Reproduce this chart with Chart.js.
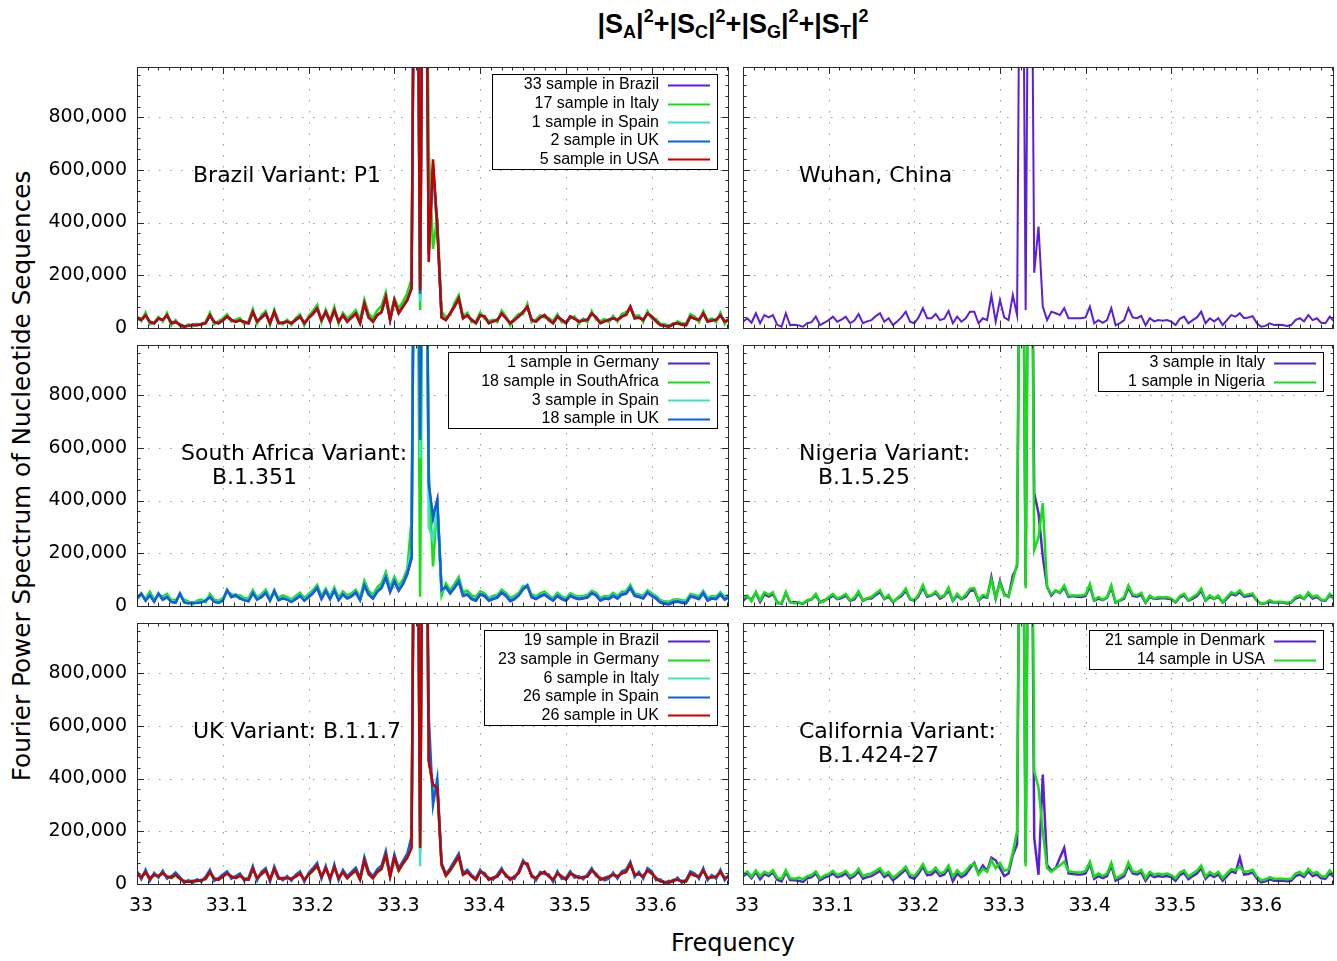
<!DOCTYPE html>
<html>
<head>
<meta charset="utf-8">
<script src="https://cdn.jsdelivr.net/npm/chart.js@4.4.1/dist/chart.umd.min.js"></script>
<style>
html,body{margin:0;padding:0;background:#fff;}
body{width:1337px;height:961px;position:relative;overflow:hidden;font-family:"DejaVu Sans",sans-serif;color:#000;}
canvas{position:absolute;}
#title{position:absolute;left:0;width:1466px;top:9px;text-align:center;font:bold 27px "Liberation Sans",Arial,sans-serif;line-height:30px;white-space:nowrap;}
#title .sb,#title .sp{font-size:18px;position:relative;line-height:0;}
#title .sb{top:5px;}
#title .sp{top:-11px;}
#ytitle{position:absolute;left:-328px;top:461px;width:700px;height:30px;line-height:30px;text-align:center;font:24.7px "DejaVu Sans",sans-serif;transform:rotate(-90deg);white-space:nowrap;}
#xtitle{position:absolute;left:533px;top:929px;width:400px;height:30px;line-height:30px;text-align:center;font:24px "DejaVu Sans",sans-serif;}
</style>
</head>
<body>
<div id="title">|S<span class="sb">A</span>|<span class="sp">2</span>+|S<span class="sb">C</span>|<span class="sp">2</span>+|S<span class="sb">G</span>|<span class="sp">2</span>+|S<span class="sb">T</span>|<span class="sp">2</span></div>
<div id="ytitle">Fourier Power Spectrum of Nucleotide Sequences</div>
<div id="xtitle">Frequency</div>
<script>
// ---------------- DATA ----------------
// Frequency grid (categories)
const FREQ_START = 33.0;
const FREQ_STEP = 0.005;
const N_POINTS = 139;
const FREQUENCIES = Array.from({length: N_POINTS}, (_, i) => +(FREQ_START + i * FREQ_STEP).toFixed(3));

// Tick labels
const X_TICKS = [33.0, 33.1, 33.2, 33.3, 33.4, 33.5, 33.6];
const Y_TICKS_K = [0, 200, 400, 600, 800];   // in thousands
const X_MIN = 33.0, X_MAX = 33.69;
const Y_MIN_K = 0, Y_MAX_K = 990;

// Series values (power, in thousands)
// Brazil Variant: P1
const P1_BRAZIL_K = [35,32,47,24,20,35,32,47,20,22, 14,7,10,12,13,15,20,47,24,20,
 28,44,32,26,28,24,20,60,26,38, 54,20,60,20,22,25,20,32,44,20,
 38,52,72,32,60,26,66,26,47,26, 42,54,20,90,42,26,50,62,115,32,
 104,58,84,108,155,2500,120,2500,300,600, 390,42,32,54,84,110,39,47,32,20,
 47,45,20,27,32,54,39,20,32,43, 62,78,32,26,42,47,32,20,44,32,
 20,44,37,26,30,32,54,42,20,27, 32,39,32,44,52,79,39,42,32,54,
 44,27,13,10,7,16,20,14,13,42, 37,32,54,26,30,32,47,26,32];
const P1_ITALY_K = [44,26,58,14,22,42,24,56,10,30, 8,2,14,6,16,9,24,58,14,26,
 36,52,24,32,38,14,26,72,16,48, 64,10,70,26,14,32,12,38,52,10,
 46,64,88,22,70,30,80,16,58,36, 50,68,30,108,55,38,66,84,135,45,
 112,75,100,132,185,2500,68,2500,680,300, 420,62,42,48,95,125,44,58,22,26,
 58,36,26,32,22,66,44,10,38,54, 52,92,22,32,48,40,38,26,52,22,
 26,36,44,16,36,22,64,32,26,34, 22,46,24,52,60,72,46,48,22,64,
 36,34,16,14,10,10,26,18,16,52, 44,22,64,30,36,22,58,16,40];
const P1_SPAIN_K = [38,28,50,20,19,38,28,50,17,25, 11,6,9,10,12,13,17,50,21,19,
 31,42,29,25,31,21,19,63,23,41, 57,17,63,17,21,23,19,29,42,19,
 36,56,76,29,63,23,69,23,50,23, 41,57,17,96,41,23,48,58,122,29,
 108,55,80,104,160,2500,100,2500,400,560, 380,44,29,57,80,115,36,50,29,17,
 50,42,17,24,31,57,36,17,29,46, 59,82,29,23,41,50,29,17,42,29,
 17,42,36,23,27,29,57,39,17,24, 29,38,29,42,51,82,36,41,29,57,
 42,24,10,7,6,14,17,11,10,44, 36,29,57,23,27,29,50,23,29];
const P1_UK_K = [36,31,48,23,17,36,31,48,19,23, 13,6,9,12,10,15,19,48,23,17,
 29,44,31,23,29,23,17,61,25,39, 55,19,61,19,19,25,17,31,44,17,
 38,54,74,31,61,25,67,25,48,25, 39,55,19,92,39,25,48,61,117,31,
 105,57,82,105,152,2500,130,2500,280,620, 388,41,31,55,82,112,38,48,31,19,
 48,44,19,26,31,55,38,19,31,44, 61,80,31,25,39,48,31,19,44,31,
 19,44,36,25,29,31,55,41,19,26, 31,38,31,44,49,80,38,39,31,55,
 44,26,12,9,6,14,19,13,12,44, 36,31,55,25,29,31,48,25,31];
const P1_USA_K = [37,30,49,22,18,37,30,49,18,24, 12,5,8,11,11,14,18,49,22,18,
 30,43,30,24,30,22,18,62,24,40, 56,18,62,18,20,24,18,30,43,18,
 37,55,75,30,62,24,68,24,49,24, 40,56,18,94,40,24,49,60,119,30,
 106,56,81,106,150,2500,144,2500,250,640, 385,40,30,56,81,113,37,49,30,18,
 49,43,18,25,30,56,37,18,30,45, 60,81,30,24,40,49,30,18,43,30,
 18,43,35,24,28,30,56,40,18,25, 30,37,30,43,50,81,37,40,30,56,
 43,25,11,8,5,15,18,12,11,43, 35,30,56,24,28,30,49,24,30];

// Wuhan, China
const WUHAN_K = [24,37,20,56,18,49,40,49,12,5, 56,11,12,10,5,18,22,43,11,20,
 30,43,24,32,43,18,28,53,18,25, 30,45,56,24,37,11,25,40,62,24,
 18,40,75,37,37,53,30,35,65,18, 43,24,37,62,62,18,37,30,123,24,
 106,40,30,125,49,2500,68,2500,210,385, 81,30,62,56,49,75,37,37,37,37,
 40,81,18,30,20,30,75,10,18,30, 75,40,37,46,10,37,25,30,28,30,
 24,11,35,43,18,30,40,62,18,37, 25,37,11,30,49,43,56,37,40,45,
 18,5,8,18,11,12,11,8,11,30, 37,25,49,30,37,20,18,43,25];

// South Africa Variant: B.1.351
const SA_GERMANY_K = [27,46,22,40,18,46,23,33,17,14, 46,16,12,14,13,16,22,33,18,14,
 22,59,33,40,28,24,20,48,26,33, 50,22,56,24,28,26,17,26,38,22,
 33,48,68,26,56,28,58,24,43,28, 36,50,24,78,43,28,54,68,108,53,
 93,58,83,120,180,2500,600,2500,450,330, 398,58,70,48,68,92,38,43,26,20,
 43,38,20,26,32,50,38,18,26,40, 63,76,33,26,36,43,30,20,38,26,
 20,38,30,26,28,32,48,40,20,28, 26,38,28,43,46,68,38,34,28,50,
 38,28,13,8,6,14,16,12,10,36, 32,26,48,20,28,26,43,24,33];
const SA_SOUTHAFRICA_K = [38,40,30,54,24,40,36,46,24,22, 40,24,18,6,20,24,14,46,24,20,
 30,52,46,34,40,30,28,60,32,44, 62,30,48,32,40,34,25,38,50,30,
 45,60,80,38,66,36,70,32,55,40, 48,62,32,96,58,42,70,86,128,70,
 110,75,100,140,327,2500,35,2500,520,150, 390,40,85,60,84,110,52,58,40,34,
 56,48,30,38,42,62,50,30,38,50, 76,70,45,36,48,55,40,30,50,36,
 30,48,40,36,38,42,58,50,30,38, 36,50,38,54,56,80,48,44,38,60,
 48,38,22,18,16,24,26,22,20,46, 42,36,58,30,38,36,53,34,43];
const SA_SPAIN_K = [32,44,24,45,20,44,28,38,18,15, 45,17,13,15,14,17,24,38,19,15,
 24,58,38,45,33,25,21,53,27,38, 55,23,61,25,33,27,18,31,43,23,
 38,53,73,31,61,29,63,25,48,33, 41,55,25,84,48,33,59,74,115,60,
 100,64,88,130,230,2500,560,2500,300,250, 380,55,70,53,73,98,43,48,31,25,
 48,43,25,31,37,55,43,23,31,45, 68,81,38,31,41,48,35,25,43,31,
 25,43,35,31,33,37,53,45,25,33, 31,43,33,48,51,73,43,39,33,55,
 43,33,18,13,11,19,21,17,15,41, 37,31,53,25,33,31,48,29,38];
const SA_UK_K = [29,48,20,42,16,48,25,35,15,12, 48,14,10,12,11,14,20,35,16,12,
 20,61,35,42,30,22,18,50,24,35, 52,20,58,22,30,24,15,28,40,20,
 35,50,70,28,58,26,60,22,45,30, 38,52,22,80,45,30,56,70,110,55,
 95,60,85,124,187,2500,630,2500,466,340, 403,60,73,50,70,95,40,45,28,22,
 45,40,22,28,34,52,40,20,28,42, 65,78,35,28,38,45,32,22,40,28,
 22,40,32,28,30,34,50,42,22,30, 28,40,30,45,48,70,40,36,30,52,
 40,30,15,10,8,16,18,14,12,38, 34,28,50,22,30,28,45,26,35];

// Nigeria Variant: B.1.5.25
const NG_ITALY_K = [20,35,24,50,15,45,36,45,15,8, 50,14,15,12,8,20,25,40,14,22,
 28,40,26,30,40,20,25,50,20,28, 28,42,52,26,35,14,28,38,58,26,
 20,38,70,35,40,50,28,38,60,20, 40,26,35,58,60,20,35,32,110,28,
 95,45,35,115,150,2500,80,2500,428,352, 187,73,40,58,50,70,35,38,35,34,
 38,75,20,28,22,32,70,12,20,28, 70,38,35,42,12,35,27,28,30,28,
 26,13,33,40,20,28,38,58,20,35, 27,35,13,28,46,40,52,35,38,42,
 20,8,10,16,13,14,13,10,13,28, 35,27,46,28,35,22,20,40,27];
const NG_NIGERIA_K = [28,40,18,54,22,52,42,52,10,12, 54,15,10,14,10,22,26,46,15,18,
 34,46,28,35,46,22,32,56,22,30, 34,48,60,28,42,15,30,44,66,28,
 22,44,80,40,42,56,34,40,70,22, 46,28,42,66,68,22,42,36,100,30,
 90,40,35,95,160,2500,67,2500,212,260, 390,73,45,60,52,78,40,40,40,40,
 44,84,22,34,24,34,78,14,22,34, 78,44,40,50,14,40,28,34,32,34,
 28,15,38,46,22,34,44,66,22,40, 28,40,15,34,52,46,60,40,44,48,
 22,9,12,22,15,16,15,12,15,34, 40,28,52,34,40,24,22,46,28];

// UK Variant: B.1.1.7
const UK_BRAZIL_K = [41,26,44,21,36,31,41,29,25,34, 21,11,9,11,13,15,21,44,21,17,
 29,41,29,23,31,21,17,57,23,37, 51,17,57,21,23,23,21,29,41,17,
 35,51,69,29,59,23,63,23,45,23, 39,51,17,89,39,23,45,57,112,29,
 102,51,79,102,145,2500,150,2500,470,370, 368,72,33,51,79,104,36,45,29,17,
 45,41,17,25,29,51,36,17,29,43, 80,77,29,23,39,45,29,17,41,29,
 17,41,33,23,27,29,51,39,17,23, 29,36,29,41,47,77,36,39,29,51,
 41,23,11,8,6,15,17,11,11,41, 33,29,51,23,27,29,45,23,29];
const UK_GERMANY_K = [38,27,43,22,33,32,40,30,22,33, 22,12,10,12,10,16,18,43,22,18,
 26,42,30,24,30,22,18,56,24,36, 50,18,56,22,20,24,18,30,38,18,
 36,50,68,30,58,24,62,24,44,24, 36,50,18,88,40,24,44,56,108,30,
 98,50,76,98,140,2500,120,2500,480,360, 370,70,30,50,76,102,37,44,30,18,
 44,42,18,22,30,50,37,18,26,44, 80,74,30,24,36,44,30,18,38,30,
 18,38,34,24,24,30,50,40,18,24, 26,37,26,42,44,74,37,36,30,50,
 38,24,12,9,7,12,18,12,8,38, 34,26,50,24,24,30,44,24,26];
const UK_ITALY_K = [42,28,47,22,37,32,44,30,26,37, 22,12,10,12,14,16,22,47,22,18,
 30,42,30,24,34,22,18,60,24,40, 54,18,60,22,24,24,22,30,42,18,
 36,54,72,30,62,24,66,24,48,24, 40,54,18,92,40,24,48,60,115,30,
 104,54,80,104,150,2500,67,2500,500,350, 380,75,34,54,80,108,37,48,30,18,
 48,42,18,26,30,54,37,18,30,44, 78,78,30,24,40,48,30,18,42,30,
 18,42,34,24,28,30,54,40,18,24, 30,37,30,42,48,78,37,40,30,54,
 42,24,12,9,7,16,18,12,12,42, 34,30,54,24,28,30,48,24,30];
const UK_SPAIN_K = [48,18,54,12,42,24,50,20,30,44, 26,4,14,4,18,8,28,54,12,22,
 36,48,20,30,40,12,24,68,14,46, 60,8,66,28,14,30,12,36,48,8,
 42,60,80,20,68,14,74,14,54,30, 46,62,24,102,48,30,56,70,125,38,
 112,60,88,115,180,2500,200,2500,643,300, 400,80,38,60,88,115,42,54,34,22,
 54,32,24,16,36,60,28,24,20,50, 90,68,36,14,46,38,36,8,48,20,
 24,48,24,30,18,36,60,30,24,14, 20,43,20,48,54,84,27,46,20,60,
 48,14,18,4,12,8,24,4,16,48, 40,20,60,14,34,20,54,14,36];
const UK_UK_K = [40,25,45,20,35,30,42,28,24,35, 20,10,8,10,12,14,20,45,20,16,
 28,40,28,22,32,20,16,58,22,38, 52,16,58,20,22,22,20,28,40,16,
 34,52,70,28,60,22,64,22,46,22, 38,52,16,90,38,22,46,58,110,28,
 100,52,78,100,137,2500,137,2500,466,377, 365,73,32,52,78,105,35,46,28,16,
 46,40,16,24,28,52,35,16,28,42, 82,76,28,22,38,46,28,16,40,28,
 16,40,32,22,26,28,52,38,16,22, 28,35,28,40,46,76,35,38,28,52,
 40,22,10,7,5,14,16,10,10,40, 32,28,52,22,26,28,46,22,28];

// California Variant: B.1.424-27
const CA_DENMARK_K = [30,40,22,45,18,38,30,44,16,10, 45,15,14,12,8,22,26,40,14,24,
 30,40,26,30,40,20,30,48,20,26, 30,40,50,26,36,14,26,40,56,26,
 20,40,66,34,36,50,30,36,60,10, 40,26,36,60,80,40,70,50,100,90,
 60,30,40,110,150,2500,80,2500,175,35, 415,73,50,60,100,137,40,38,36,36,
 40,76,20,30,22,30,70,12,20,30, 70,40,36,44,12,36,26,30,28,30,
 26,12,34,42,18,30,40,60,20,36, 26,36,12,30,48,42,100,36,38,44,
 20,6,10,18,12,12,12,10,12,30, 36,26,48,30,36,22,20,40,26];
const CA_USA_K = [36,48,28,52,30,46,38,52,24,20, 52,22,20,24,18,30,34,48,22,32,
 38,50,34,40,50,30,38,58,30,36, 40,50,60,36,46,24,36,50,66,36,
 30,50,76,44,46,62,40,46,70,28, 52,36,48,70,76,36,58,46,90,60,
 80,50,55,120,200,2500,67,2500,428,365, 200,60,46,60,70,85,48,46,44,44,
 50,84,28,40,30,40,80,22,30,40, 82,48,44,54,22,46,34,40,36,40,
 34,22,44,52,28,40,50,70,28,46, 34,46,22,40,56,52,66,46,48,54,
 28,14,18,26,20,20,20,18,20,40, 46,34,58,40,46,30,28,52,34];

// ---------------- STYLE / LAYOUT ----------------
const C = {purple:'#5c1fd8', green:'#14e014', cyan:'#40e0cc', blue:'#0e62d8', red:'#c40000'};
const PLOT_TOPS = [67, 345, 623];
const PLOT_H = 261;

const PANELS = [
  {row:0, col:0, notes:[['Brazil Variant: P1', 56]], legendW:226, series:[
    ['33 sample in Brazil', C.purple, P1_BRAZIL_K],
    ['17 sample in Italy', C.green, P1_ITALY_K],
    ['1 sample in Spain', C.cyan, P1_SPAIN_K],
    ['2 sample in UK', C.blue, P1_UK_K],
    ['5 sample in USA', C.red, P1_USA_K]]},
  {row:0, col:1, notes:[['Wuhan, China', 56]], legendW:0, series:[
    ['Wuhan, China', C.purple, WUHAN_K]]},
  {row:1, col:0, notes:[['South Africa Variant:', 44], ['B.1.351', 75]], legendW:270, series:[
    ['1 sample in Germany', C.purple, SA_GERMANY_K],
    ['18 sample in SouthAfrica', C.green, SA_SOUTHAFRICA_K],
    ['3 sample in Spain', C.cyan, SA_SPAIN_K],
    ['18 sample in UK', C.blue, SA_UK_K]]},
  {row:1, col:1, notes:[['Nigeria Variant:', 56], ['B.1.5.25', 75]], legendW:226, series:[
    ['3 sample in Italy', C.purple, NG_ITALY_K],
    ['1 sample in Nigeria', C.green, NG_NIGERIA_K]]},
  {row:2, col:0, notes:[['UK Variant: B.1.1.7', 56]], legendW:234, series:[
    ['19 sample in Brazil', C.purple, UK_BRAZIL_K],
    ['23 sample in Germany', C.green, UK_GERMANY_K],
    ['6 sample in Italy', C.cyan, UK_ITALY_K],
    ['26 sample in Spain', C.blue, UK_SPAIN_K],
    ['26 sample in UK', C.red, UK_UK_K]]},
  {row:2, col:1, notes:[['California Variant:', 56], ['B.1.424-27', 75]], legendW:235, series:[
    ['21 sample in Denmark', C.purple, CA_DENMARK_K],
    ['14 sample in USA', C.green, CA_USA_K]]}
];

PANELS.forEach(p => p.series.forEach(s => {
  if (s[2].length !== N_POINTS) throw new Error('Series "' + s[0] + '" has ' + s[2].length + ' values');
}));

// ---------------- PLUGIN: grid, frame, labels, key ----------------
const panelDeco = {
  id: 'panelDeco',
  beforeDatasetsDraw(chart, args, o) {
    const {ctx, chartArea: a, scales: {x, y}} = chart;
    ctx.save();
    ctx.strokeStyle = '#9a9a9a';
    ctx.lineWidth = 1;
    ctx.setLineDash([1.5, 9.5]);
    ctx.beginPath();
    X_TICKS.forEach(v => {
      if (v <= X_MIN) return;
      const px = Math.round(x.getPixelForValue(v)) + 0.5;
      ctx.moveTo(px, a.top); ctx.lineTo(px, a.bottom);
    });
    Y_TICKS_K.forEach(v => {
      if (v <= Y_MIN_K) return;
      const py = Math.round(y.getPixelForValue(v)) + 0.5;
      ctx.moveTo(a.left, py); ctx.lineTo(a.right, py);
    });
    ctx.stroke();
    ctx.restore();
  },
  afterDatasetsDraw(chart, args, o) {
    const {ctx, chartArea: a, scales: {x, y}} = chart;
    ctx.save();
    // frame
    ctx.strokeStyle = '#2a2a2a';
    ctx.lineWidth = 1;
    ctx.strokeRect(Math.round(a.left) + 0.5, Math.round(a.top) + 0.5, Math.round(a.right - a.left) - 1, Math.round(a.bottom - a.top));
    ctx.beginPath();
    // major ticks (inward, mirrored)
    X_TICKS.forEach(v => {
      const px = Math.round(x.getPixelForValue(v)) + 0.5;
      ctx.moveTo(px, a.bottom); ctx.lineTo(px, a.bottom - 7);
      ctx.moveTo(px, a.top); ctx.lineTo(px, a.top + 7);
    });
    Y_TICKS_K.forEach(v => {
      const py = Math.round(y.getPixelForValue(v)) + 0.5;
      ctx.moveTo(a.left, py); ctx.lineTo(a.left + 7, py);
      ctx.moveTo(a.right, py); ctx.lineTo(a.right - 7, py);
    });
    // minor ticks
    for (let k = 1; ; k++) {
      const v = X_MIN + k * 0.0125;
      if (v > X_MAX) break;
      if (Math.abs(v * 10 - Math.round(v * 10)) < 1e-6) continue;
      const px = Math.round(x.getPixelForValue(v)) + 0.5;
      ctx.moveTo(px, a.bottom); ctx.lineTo(px, a.bottom - 3.5);
      ctx.moveTo(px, a.top); ctx.lineTo(px, a.top + 3.5);
    }
    for (let v = 40; v < Y_MAX_K; v += 40) {
      if (v % 200 === 0) continue;
      const py = Math.round(y.getPixelForValue(v)) + 0.5;
      ctx.moveTo(a.left, py); ctx.lineTo(a.left + 3.5, py);
      ctx.moveTo(a.right, py); ctx.lineTo(a.right - 3.5, py);
    }
    ctx.stroke();

    // panel notes
    ctx.fillStyle = '#000';
    ctx.font = '22px "DejaVu Sans"';
    ctx.textAlign = 'left';
    ctx.textBaseline = 'middle';
    o.notes.forEach((n, i) => ctx.fillText(n[0], a.left + n[1], a.top + 109 + i * 24));

    // key
    if (o.legendW > 0) {
      const ser = chart.data.datasets;
      const right = Math.round(a.right) - (o.col === 0 ? 11 : 10);
      const top = Math.round(a.top) + 7;
      const h = ser.length * 18.6 + 1.5;
      ctx.fillStyle = '#fff';
      ctx.fillRect(right - o.legendW, top, o.legendW, h);
      ctx.strokeStyle = '#000';
      ctx.lineWidth = 1;
      ctx.strokeRect(right - o.legendW + 0.5, top + 0.5, o.legendW - 1, Math.round(h));
      ctx.font = '16px "Liberation Sans"';
      ctx.textAlign = 'right';
      ser.forEach((d, i) => {
        const cy = top + 11 + i * 18.6;
        ctx.fillStyle = '#000';
        ctx.fillText(d.label, right - 59, cy);
        ctx.strokeStyle = d.borderColor;
        ctx.lineWidth = 2;
        ctx.beginPath();
        ctx.moveTo(right - 50, Math.round(cy) + 0.5);
        ctx.lineTo(right - 8, Math.round(cy) + 0.5);
        ctx.stroke();
      });
    }
    ctx.restore();
  }
};

// ---------------- BUILD ----------------
Chart.defaults.font.family = '"DejaVu Sans"';
Chart.defaults.color = '#000';

PANELS.forEach(p => {
  const bottomRow = p.row === 2;
  const yW = p.col === 0 ? 137 : 23;
  const cLeft = p.col === 0 ? 0 : 720;
  const cWidth = p.col === 0 ? 736 : 617;
  const padR = p.col === 0 ? 7 : 3;
  const padTop = 15;
  const xH = bottomRow ? 45 : 15;
  const cTop = PLOT_TOPS[p.row] - padTop;
  const cHeight = padTop + PLOT_H + xH;

  const cv = document.createElement('canvas');
  cv.width = cWidth; cv.height = cHeight;
  cv.style.left = cLeft + 'px'; cv.style.top = cTop + 'px';
  cv.style.width = cWidth + 'px'; cv.style.height = cHeight + 'px';
  document.body.appendChild(cv);

  const n = p.series.length;
  const lw = n > 1 ? 2.5 : 2;
  new Chart(cv, {
    type: 'line',
    data: {
      datasets: p.series.map((s, i) => ({
        label: s[0],
        data: FREQUENCIES.map((f, j) => ({x: f, y: s[2][j]})),
        borderColor: s[1],
        backgroundColor: s[1],
        borderWidth: lw,
        pointRadius: 0,
        pointHoverRadius: 0,
        tension: 0,
        fill: false,
        order: n - 1 - i
      }))
    },
    options: {
      responsive: false,
      animation: false,
      devicePixelRatio: 1,
      events: [],
      layout: {padding: {left: 0, right: padR, top: padTop, bottom: 0}},
      plugins: {
        legend: {display: false},
        tooltip: {enabled: false},
        title: {display: false},
        panelDeco: {notes: p.notes, legendW: p.legendW, col: p.col}
      },
      scales: {
        x: {
          type: 'linear',
          min: X_MIN, max: X_MAX,
          grid: {display: false, drawTicks: false},
          border: {display: false},
          afterBuildTicks: s => { s.ticks = X_TICKS.map(v => ({value: v})); },
          afterFit: s => { s.height = xH; s.paddingLeft = 0; s.paddingRight = 0; s.paddingTop = 0; s.paddingBottom = 0; },
          ticks: {
            display: bottomRow,
            autoSkip: false, maxRotation: 0, minRotation: 0,
            padding: 11,
            labelOffset: 4,
            font: {size: 19, family: '"DejaVu Sans"'},
            color: '#000',
            callback: v => String(+Number(v).toFixed(1))
          }
        },
        y: {
          type: 'linear',
          min: Y_MIN_K, max: Y_MAX_K,
          grid: {display: false, drawTicks: false},
          border: {display: false},
          afterBuildTicks: s => { s.ticks = Y_TICKS_K.map(v => ({value: v})); },
          afterFit: s => { s.width = yW; s.paddingTop = 0; s.paddingBottom = 0; s.paddingLeft = 0; s.paddingRight = 0; },
          ticks: {
            display: p.col === 0,
            autoSkip: false,
            padding: 10,
            font: {size: 19, family: '"DejaVu Sans"'},
            color: '#000',
            callback: v => (v * 1000).toLocaleString('en-US')
          }
        }
      }
    },
    plugins: [panelDeco]
  });
});
</script>
</body>
</html>
